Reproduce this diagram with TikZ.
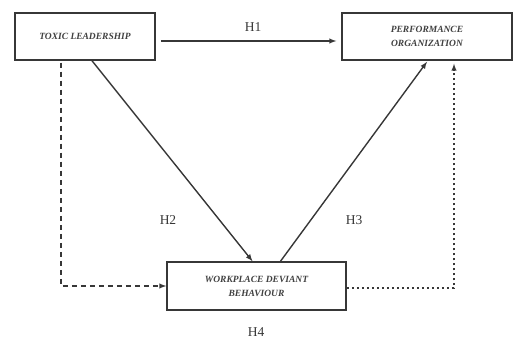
\documentclass[tikz,border=0pt]{standalone}
\usepackage{fontspec}
\setmainfont{Liberation Serif}
\usepackage{tikz}
\usetikzlibrary{arrows,positioning}
\definecolor{linegray}{RGB}{55,55,55}

\begin{document}
\begin{tikzpicture}
              [x=1pt,y=-1pt,auto=center,
                every node/.style={rectangle,draw=none,fill=none,text=linegray},
                box/.style={draw=linegray,line width=1.5pt,align=center,text=black!75,
                  font=\fontsize{9.5}{14}\selectfont\bfseries\itshape},
                hyp/.style={font=\fontsize{13.5}{14}\selectfont},
                link/.style={draw=linegray,line width=1.4pt,-latex}]
              \useasboundingbox (0,0) rectangle (514,342);
              \node[box,minimum width=140pt,minimum height=47pt] (n0) at (85,36.5) {TOXIC LEADERSHIP};
              \node[box,minimum width=170pt,minimum height=47pt] (n1) at (427,36.5) {PERFORMANCE\\ORGANIZATION};
              \node[box,minimum width=179pt,minimum height=48pt] (n2) at (256.5,286) {WORKPLACE DEVIANT\\BEHAVIOUR};
              \node[hyp] (h1) at (253,27) {H1};
              \node[hyp] (h2) at (168,220) {H2};
              \node[hyp] (h3) at (354,220) {H3};
              \node[hyp] (h4) at (256,332) {H4};
              \draw[link,shorten <=5pt,shorten >=5pt] ([yshift=-4.5pt]n0.east) -- ([yshift=-4.5pt]n1.west);
              \draw[link] ([xshift=7pt]n0.south) -- ([xshift=-4pt]n2.north);
              \draw[link] ([xshift=24pt]n2.north) -- ([yshift=-1pt]n1.south);
              \draw[link,dash pattern=on 5pt off 4pt,shorten <=2pt] ([xshift=-24pt]n0.south) |- (n2.west);
              \draw[link,dash pattern=on 2.5pt off 2.5pt] ([yshift=-2pt]n2.east) -| ([xshift=27pt,yshift=-3pt]n1.south);
            \end{tikzpicture}
\end{document}
